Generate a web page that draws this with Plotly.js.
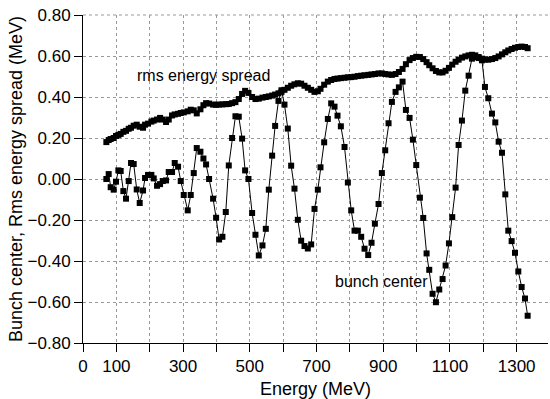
<!DOCTYPE html>
<html>
<head>
<meta charset="utf-8">
<script src="https://cdn.plot.ly/plotly-3.0.1.min.js"></script>
<style>html,body{margin:0;padding:0;background:#fff;}#chart{width:550px;height:399px;}</style>
</head>
<body>
<div id="chart"></div>
<script>
// Energy (MeV) of each sample
const energy = [70, 77, 83, 92, 99, 106, 113, 121, 129, 137, 144, 152, 161, 170, 180, 186, 195, 205, 212, 222,
  231, 239, 249, 257, 267, 275, 285, 293, 302, 314, 323, 332, 341, 352, 361, 369, 378, 390, 399, 408,
  418, 428, 437, 447, 457, 467, 477, 486, 496, 507, 517, 527, 538, 548, 557, 567, 576, 586, 595, 604,
  614, 624, 634, 644, 654, 664, 674, 684, 694, 704, 712, 723, 734, 744, 754, 763, 773, 784, 794, 804,
  814, 824, 834, 844, 855, 865, 875, 886, 896, 906, 916, 926, 937, 947, 958, 968, 979, 989, 999, 1010,
  1020, 1030, 1038, 1048, 1058, 1068, 1078, 1087, 1097, 1107, 1117, 1126, 1136, 1146, 1156, 1166, 1176, 1186, 1196, 1205,
  1215, 1226, 1236, 1246, 1256, 1266, 1275, 1285, 1295, 1305, 1315, 1325, 1333];

// Bunch center (MeV)
const bunchCenter = [0.00, 0.024, -0.04, -0.052, -0.013, 0.042, 0.039, -0.059, -0.096, -0.01, 0.078, 0.073, -0.051, -0.117, -0.056, 0.005, 0.02, 0.02, 0.003, -0.033,
  -0.025, -0.01, -0.007, 0.034, 0.034, 0.078, 0.06, -0.01, -0.078, -0.153, -0.078, 0.029, 0.151, 0.133, 0.10, 0.071, 0.00, -0.096, -0.189, -0.295,
  -0.282, -0.161, 0.066, 0.20, 0.306, 0.304, 0.197, 0.042, 0.00, -0.166, -0.272, -0.373, -0.324, -0.243, -0.052, 0.114, 0.259, 0.381, 0.433, 0.363,
  0.246, 0.065, -0.047, -0.199, -0.301, -0.327, -0.339, -0.319, -0.146, -0.052, 0.057, 0.179, 0.293, 0.369, 0.353, 0.309, 0.257, 0.156, -0.017, -0.153,
  -0.252, -0.252, -0.282, -0.34, -0.371, -0.311, -0.218, -0.122, 0.029, 0.14, 0.272, 0.376, 0.425, 0.447, 0.475, 0.337, 0.298, 0.192, 0.068, -0.091,
  -0.19, -0.363, -0.443, -0.56, -0.601, -0.539, -0.488, -0.422, -0.314, -0.186, -0.042, 0.166, 0.285, 0.431, 0.504, 0.587, 0.595, 0.59, 0.579, 0.449,
  0.394, 0.319, 0.276, 0.182, 0.128, -0.075, -0.252, -0.303, -0.36, -0.451, -0.527, -0.583, -0.667];

// Rms energy spread (MeV)
const rmsSpread = [0.18, 0.19, 0.195, 0.20, 0.21, 0.215, 0.22, 0.23, 0.235, 0.245, 0.25, 0.26, 0.265, 0.255, 0.25, 0.265, 0.27, 0.28, 0.285, 0.29,
  0.298, 0.29, 0.278, 0.29, 0.31, 0.315, 0.318, 0.322, 0.325, 0.33, 0.338, 0.335, 0.32, 0.34, 0.36, 0.37, 0.368, 0.363, 0.362, 0.363,
  0.364, 0.365, 0.366, 0.37, 0.375, 0.39, 0.415, 0.43, 0.42, 0.40, 0.39, 0.392, 0.397, 0.40, 0.403, 0.407, 0.412, 0.418, 0.425, 0.435,
  0.445, 0.455, 0.462, 0.467, 0.465, 0.455, 0.445, 0.435, 0.425, 0.428, 0.44, 0.46, 0.475, 0.483, 0.488, 0.49, 0.492, 0.494, 0.496, 0.497,
  0.499, 0.502, 0.504, 0.506, 0.508, 0.51, 0.512, 0.515, 0.515, 0.512, 0.51, 0.508, 0.512, 0.522, 0.537, 0.56, 0.58, 0.59, 0.596, 0.595,
  0.585, 0.57, 0.555, 0.54, 0.527, 0.52, 0.52, 0.528, 0.542, 0.558, 0.572, 0.582, 0.592, 0.598, 0.603, 0.606, 0.603, 0.595, 0.587, 0.583,
  0.582, 0.585, 0.59, 0.598, 0.608, 0.618, 0.627, 0.634, 0.64, 0.644, 0.646, 0.644, 0.638];

const xTickVals = [0, 100, 200, 300, 400, 500, 600, 700, 800, 900, 1000, 1100, 1200, 1300];
const xTickText = ['0', '100', '', '300', '', '500', '', '700', '', '900', '', '1100', '', '1300'];
const yTickVals = [-0.8, -0.6, -0.4, -0.2, 0, 0.2, 0.4, 0.6, 0.8];

const FONT = 'Liberation Sans, Arial, sans-serif';

const traces = [
  {
    x: energy, y: rmsSpread, type: 'scatter', mode: 'lines+markers',
    line: {color: '#000', width: 3},
    marker: {symbol: 'square', size: 6, color: '#000'},
    hoverinfo: 'none'
  },
  {
    x: energy, y: bunchCenter, type: 'scatter', mode: 'lines+markers',
    line: {color: '#000', width: 1},
    marker: {symbol: 'square', size: 6, color: '#000'},
    hoverinfo: 'none'
  }
];

const layout = {
  width: 550, height: 399,
  margin: {l: 83, r: 2, t: 15, b: 56, pad: 0},
  paper_bgcolor: '#fff', plot_bgcolor: '#fff',
  showlegend: false,
  font: {family: FONT, color: '#000', size: 16},
  xaxis: {
    range: [0, 1394], autorange: false,
    tickmode: 'array', tickvals: xTickVals, ticktext: xTickText,
    ticks: 'outside', ticklen: 8, tickwidth: 1, tickcolor: '#000',
    showline: true, linecolor: '#000', linewidth: 1,
    showgrid: true, gridcolor: '#999', griddash: 'dot', gridwidth: 1,
    zeroline: false,
    tickfont: {family: FONT, size: 17, color: '#000'},
    title: {text: 'Energy (MeV)', font: {family: FONT, size: 18, color: '#000'}, standoff: 6}
  },
  yaxis: {
    range: [-0.8, 0.8], autorange: false,
    tickmode: 'array', tickvals: yTickVals, tickformat: '.2f',
    ticks: 'outside', ticklen: 8, tickwidth: 1, tickcolor: '#000',
    showline: true, linecolor: '#000', linewidth: 1,
    showgrid: true, gridcolor: '#999', griddash: 'dot', gridwidth: 1,
    zeroline: false,
    tickfont: {family: FONT, size: 17, color: '#000'},
    title: {text: 'Bunch center, Rms energy spread (MeV)', font: {family: FONT, size: 18, color: '#000'}, standoff: 0}
  },
  shapes: [
    {type: 'line', xref: 'paper', yref: 'paper', x0: 0, x1: 1, y0: 1, y1: 1,
     line: {color: '#999', width: 1, dash: 'dot'}, layer: 'below'}
  ],
  annotations: [
    {x: 155, y: 0.506, xref: 'x', yref: 'y', text: 'rms energy spread', showarrow: false,
     xanchor: 'left', yanchor: 'middle', font: {family: FONT, size: 16, color: '#000'}},
    {x: 749, y: -0.5, xref: 'x', yref: 'y', text: 'bunch center', showarrow: false,
     xanchor: 'left', yanchor: 'middle', font: {family: FONT, size: 16, color: '#000'}}
  ]
};

Plotly.newPlot('chart', traces, layout, {staticPlot: true, displayModeBar: false});
</script>
</body>
</html>
